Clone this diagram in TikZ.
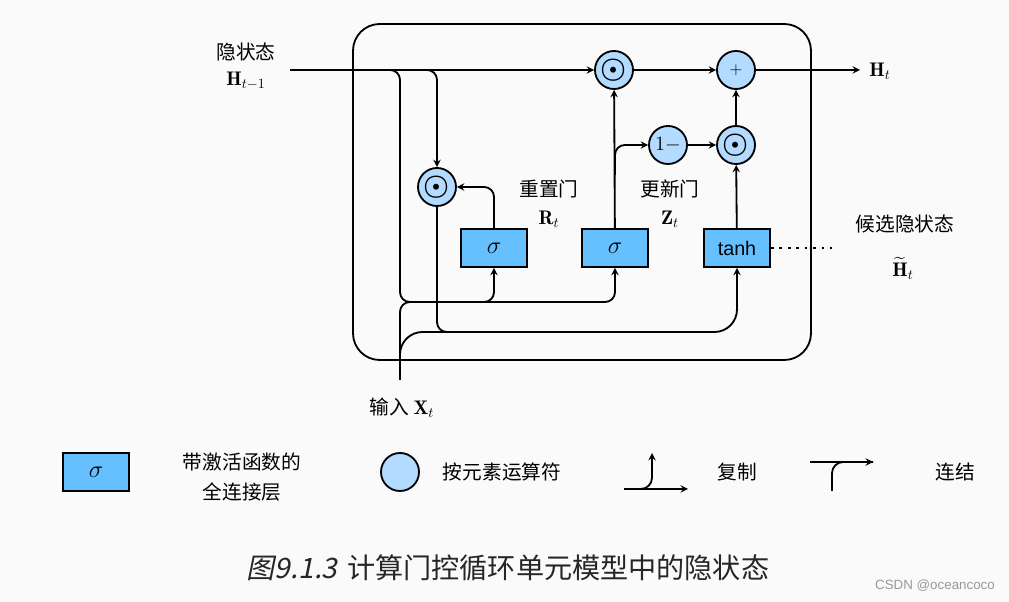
\documentclass[tikz,border=0pt]{standalone}
\usepackage{amsmath,amssymb}
\usepackage{fontspec}
\newfontfamily\cjk{Noto Sans CJK SC}
\newfontfamily\cjkit[FakeSlant=0.2]{Noto Sans CJK SC}
\newfontfamily\sans{Liberation Sans}
\usetikzlibrary{calc,positioning,arrows,shapes}
\definecolor{boxblue}{RGB}{102,191,255}
\definecolor{opblue}{RGB}{179,218,255}
\definecolor{bgcol}{RGB}{250,250,250}

\begin{document}
\begin{tikzpicture}
          [x=0.025cm, y=-0.025cm,
           op/.style={circle,draw=black,fill=opblue,line width=1.3pt,minimum size=0.95cm,inner sep=0pt},
           fc/.style={rectangle,draw=black,fill=boxblue,line width=1.3pt,minimum width=1.65cm,minimum height=0.95cm,inner sep=0pt,font=\fontsize{14}{17}\selectfont},
           lbl/.style={font=\cjk\fontsize{14}{21}\selectfont,align=center,inner sep=1pt},
           sym/.style={font=\fontsize{14}{17}\selectfont,inner sep=1pt},
           wire/.style={line width=1.3pt},
           >=stealth
          ]
          \fill[bgcol] (0,0) rectangle (1009,602);
          \useasboundingbox (0,0) rectangle (1009,602);
          \draw[wire,rounded corners=19pt] (353,24) rectangle (811,360);
          % operators and layers
          \node[op] (mulh) at (614,70) {\fontsize{22}{22}\selectfont$\boldsymbol{\odot}$};
          \node[op] (plus) at (736,70) {\fontsize{13}{13}\selectfont$+$};
          \node[op] (mulz) at (736,145) {\fontsize{22}{22}\selectfont$\boldsymbol{\odot}$};
          \node[op] (oneminus) at (668,145) {\fontsize{14}{14}\selectfont$1-$};
          \node[op] (mulr) at (437,187) {\fontsize{22}{22}\selectfont$\boldsymbol{\odot}$};
          \node[fc] (sigr) at (494,248) {\fontsize{18}{18}\selectfont$\sigma$};
          \node[fc] (sigz) at (615,248) {\fontsize{18}{18}\selectfont$\sigma$};
          \node[fc] (tanh) at (737,248) {\sans tanh};
          % labels
          \node[lbl] (hname) at (246,52) {隐状态};
          \node[sym] (hprev) at (246,81) {$\mathbf{H}_{t-1}$};
          \node[sym] (hnext) at (880,71) {$\mathbf{H}_t$};
          \node[lbl] (rname) at (549,189) {重置门};
          \node[sym] (rgate) at (549,219) {$\mathbf{R}_t$};
          \node[lbl] (zname) at (670,189) {更新门};
          \node[sym] (zgate) at (670,219) {$\mathbf{Z}_t$};
          \node[lbl] (cname) at (905,224) {候选隐状态};
          \node[sym,inner sep=0pt] (cand) at (903,268) {$\widetilde{\mathbf{H}}_t$};
          \node[lbl] (xname) at (402,408) {输入\ $\mathbf{X}_t$};
          % free ends and junctions
          \coordinate (hin) at (290,70);
          \coordinate (hout) at (860,70);
          \coordinate (xin) at (400,380);
          \coordinate (jr) at (400,302);
          \coordinate (jrz) at (460,302);
          \coordinate (jc) at (737,332);
          \coordinate (jcr) at (600,332);
          \coordinate (zsplit) at (615,175);
          \coordinate (dotend) at (832,248);
          % connectors
          \draw[wire,->] (hin) -- (mulh);
          \draw[wire,->,rounded corners=7pt] (hin) -| (mulr);
          \draw[wire,->,rounded corners=7pt] (hin) -| (jr) -| (sigr);
          \draw[wire,->,rounded corners=7pt] (jrz) -| (sigz);
          \draw[wire,rounded corners=7pt] (xin) |- (jrz);
          \draw[wire,->,rounded corners=16pt] (xin) |- (jc) -- (tanh);
          \draw[wire,rounded corners=7pt] (mulr) |- (jcr);
          \draw[wire,->,rounded corners=7pt] (sigr) |- (mulr);
          \draw[wire,->] (sigz) -- (mulh);
          \draw[wire,->,rounded corners=7pt] (zsplit) |- (oneminus);
          \draw[wire,->] (oneminus) -- (mulz);
          \draw[wire,->] (tanh) -- (mulz);
          \draw[wire,->] (mulz) -- (plus);
          \draw[wire,->] (mulh) -- (plus);
          \draw[wire,->] (plus) -- (hout);
          \draw[wire,dash pattern=on 2pt off 4pt] (tanh) -- (dotend);
          % legend
          \node[fc] (lsig) at (96,472) {\fontsize{18}{18}\selectfont$\sigma$};
          \node[lbl] (lfc) at (242,477) {带激活函数的\\全连接层};
          \node[op] (lop) at (400,472) {};
          \node[lbl] (lopt) at (502,472) {按元素运算符};
          \coordinate (cpa) at (624,489);
          \coordinate (cpb) at (688,489);
          \coordinate (cpc) at (652,453);
          \draw[wire,->] (cpa) -- (cpb);
          \draw[wire,->,rounded corners=8pt] (cpa) -| (cpc);
          \node[lbl] (lcopy) at (737,472) {复制};
          \coordinate (cta) at (810,462);
          \coordinate (ctb) at (873,462);
          \coordinate (ctc) at (832,491);
          \draw[wire,->] (cta) -- (ctb);
          \draw[wire,rounded corners=8pt] (ctc) |- (ctb);
          \node[lbl] (lcat) at (955,472) {连结};
          % caption
          \node[font=\cjk\fontsize{20}{24}\selectfont,text=black!85] (cap) at (508,568)
            {{\cjkit 图9.1.3}\hspace{7pt}计算门控循环单元模型中的隐状态};
          \node[font=\sans\fontsize{9.5}{11}\selectfont,text=black!40] (mark) at (935,586) {CSDN @oceancoco};
        \end{tikzpicture}
\end{document}
